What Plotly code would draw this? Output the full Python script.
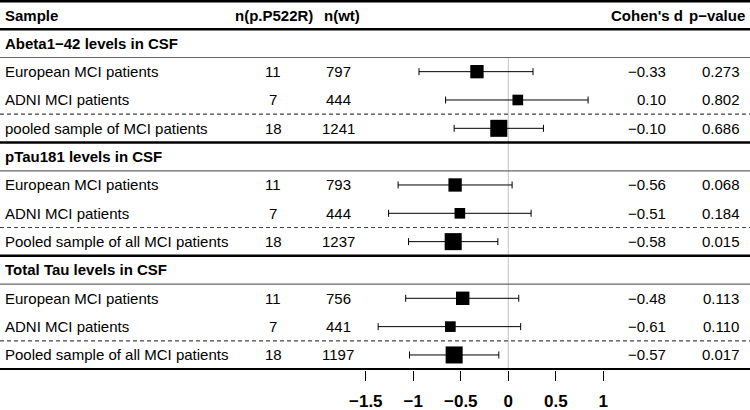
import plotly.graph_objects as go

MINUS = "\u2212"

# ---------------- data ----------------
sections = [f"Abeta1{MINUS}42 levels in CSF", "pTau181 levels in CSF", "Total Tau levels in CSF"]
samples = [
    "European MCI patients", "ADNI MCI patients", "pooled sample of MCI patients",
    "European MCI patients", "ADNI MCI patients", "Pooled sample of all MCI patients",
    "European MCI patients", "ADNI MCI patients", "Pooled sample of all MCI patients",
]
section_of = [0, 0, 0, 1, 1, 1, 2, 2, 2]
n_var = [11, 7, 18, 11, 7, 18, 11, 7, 18]
n_wt = [797, 444, 1241, 793, 444, 1237, 756, 441, 1197]
cohens_d = [-0.33, 0.10, -0.10, -0.56, -0.51, -0.58, -0.48, -0.61, -0.57]
ci_lo = [-0.94, -0.66, -0.57, -1.16, -1.26, -1.05, -1.08, -1.37, -1.04]
ci_hi = [0.26, 0.84, 0.37, 0.04, 0.24, -0.11, 0.11, 0.13, -0.10]
p_values = ["0.273", "0.802", "0.686", "0.068", "0.184", "0.015", "0.113", "0.110", "0.017"]
tick_vals = [-1.5, -1, -0.5, 0, 0.5, 1]

# ---------------- layout helpers ----------------
W, H = 750, 410
FONT = "Liberation Sans, Arial, Helvetica, sans-serif"
FS = 15

# row index: 0 header, section headings at 1,5,9; data rows follow
sec_rows = [1 + 4 * i for i in range(len(sections))]
rows = []
count = {}
for s in section_of:
    count[s] = count.get(s, 0) + 1
    rows.append(sec_rows[s] + count[s])

def fmt_d(v):
    s = f"{abs(v):.2f}"
    return (MINUS + s) if v < 0 else s

widths = [h - l for l, h in zip(ci_lo, ci_hi)]
sizes = [16.0 / w for w in widths]

fig = go.Figure()
fig.add_trace(go.Scatter(
    x=cohens_d, y=rows, mode="markers",
    marker=dict(symbol="square", size=sizes, color="black", opacity=1, line=dict(width=0)),
    error_x=dict(type="data", symmetric=False,
                 array=[h - d for d, h in zip(cohens_d, ci_hi)],
                 arrayminus=[d - l for d, l in zip(cohens_d, ci_lo)],
                 color="black", thickness=1, width=3.5),
    hoverinfo="skip", showlegend=False,
))

ann = []
def txt(x, y, t, anchor="left", bold=False):
    ann.append(dict(x=x / W, xref="paper", y=y, yref="y", text=f"<b>{t}</b>" if bold else t,
                    showarrow=False, xanchor=anchor, yanchor="middle",
                    font=dict(family=FONT, size=FS, color="black")))

COL_SAMPLE, COL_NV, COL_NWT, COL_D, COL_P = 3, 273, 338, 668, 721
# header
txt(COL_SAMPLE, 0, "Sample", bold=True)
txt(274, 0, "n(p.P522R)", "center", True)
txt(342, 0, "n(wt)", "center", True)
txt(647, 0, "Cohen's d", "center", True)
txt(717, 0, f"p{MINUS}value", "center", True)
for i, s in enumerate(sections):
    txt(COL_SAMPLE, sec_rows[i], s, bold=True)
for r, s, a, b, d, p in zip(rows, samples, n_var, n_wt, cohens_d, p_values):
    txt(COL_SAMPLE, r, s)
    txt(COL_NV, r, str(a), "center")
    txt(COL_NWT, r, str(b), "center")
    txt(COL_D, r, fmt_d(d), "right")
    txt(COL_P, r, p, "center")

shapes = []
def hline(y, width, color, dash="solid"):
    shapes.append(dict(type="line", xref="paper", x0=0, x1=1, yref="y", y0=y, y1=y,
                       line=dict(width=width, color=color, dash=dash), layer="above"))

hline(-0.49, 3, "black")
hline(0.5, 2.5, "black")
for r in sec_rows:
    hline(r + 0.5, 1.2, "#666666")
    hline(r + 2.5, 1.2, "#444444", "4px,3px")
    hline(r + 3.5, 2.5, "black")
# reference line at zero
shapes.append(dict(type="line", xref="x", x0=0, x1=0, yref="y", y0=1.5, y1=12.5,
                   line=dict(width=1, color="#c4c4c4"), layer="below"))

zero_px = 508.3
ppu = 95.0
plot_h = 370
fig.update_layout(
    width=W, height=H, margin=dict(l=0, r=0, t=0, b=H - plot_h),
    paper_bgcolor="white", plot_bgcolor="white",
    annotations=ann, shapes=shapes,
    xaxis=dict(range=[-zero_px / ppu, (W - zero_px) / ppu], tickvals=tick_vals,
               ticks="outside", ticklen=10, tickwidth=1, tickcolor="black",
               showgrid=False, zeroline=False, showline=False,
               ticklabelstandoff=6,
               tickfont=dict(family=FONT, size=17, color="black", weight="bold"),
               fixedrange=True),
    yaxis=dict(range=[(plot_h - 15) / 28.33, -15 / 28.33], visible=False,
               showgrid=False, zeroline=False, fixedrange=True),
)
fig.write_html("out.html", config={"displayModeBar": False},
               post_script="document.body.style.margin='0';document.body.style.padding='0';")
